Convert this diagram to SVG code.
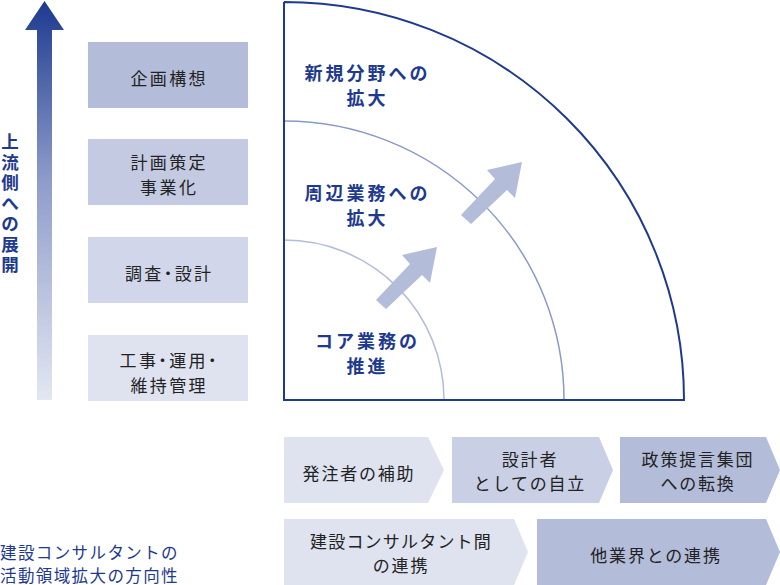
<svg xmlns="http://www.w3.org/2000/svg" width="780" height="585" viewBox="0 0 780 585">
<style>
text{font-family:"Noto Sans CJK JP","Noto Sans",sans-serif;}
.bx{font-size:17px;fill:#222;text-anchor:middle;letter-spacing:2.4px;}
.palt{font-feature-settings:"palt";}
.bl{font-size:18px;font-weight:700;fill:#1e3a8f;text-anchor:middle;letter-spacing:3px;}
.vt{font-size:17.5px;font-weight:700;fill:#1e3a8f;text-anchor:middle;}
.ch{font-size:17px;fill:#222;text-anchor:middle;letter-spacing:1.8px;}
.note{font-size:16.5px;fill:#1e3a8f;letter-spacing:1.4px;}
.c1{fill:#dfe3f0;}.c2{fill:#c9cfe5;}.c3{fill:#b3bcd9;}
.arc{fill:none;}
.ga{fill:#b3bcd9;}
</style>
<defs>
<linearGradient id="upg" x1="0" y1="0" x2="0" y2="1">
<stop offset="0" stop-color="#1e3a8f"/>
<stop offset="0.45" stop-color="#8e9cca"/>
<stop offset="1" stop-color="#e3e7f2"/>
</linearGradient>
</defs>

<g id="upstream-arrow">
<polygon points="44.5,1 64,30 52,30 52,400 37,400 37,30 25,30" fill="url(#upg)"/>
<text class="vt"><tspan x="10" y="148">上</tspan><tspan x="10" dy="20.5">流</tspan><tspan x="10" dy="20.5">側</tspan><tspan x="10" dy="20.5">へ</tspan><tspan x="10" dy="20.5">の</tspan><tspan x="10" dy="20.5">展</tspan><tspan x="10" dy="20.5">開</tspan></text>
</g>

<g id="box-kikaku">
<rect x="88" y="42" width="160" height="66" fill="#b3bcd9"/>
<text class="bx" x="169.2" y="84.5">企画構想</text>
</g>
<g id="box-keikaku">
<rect x="88" y="139" width="160" height="66" fill="#c3cae2"/>
<text class="bx" x="169.2" y="169">計画策定</text>
<text class="bx" x="169.2" y="193.5">事業化</text>
</g>
<g id="box-chousa">
<rect x="88" y="237" width="160" height="66" fill="#d1d6ea"/>
<text class="bx palt" x="169.2" y="279.5">調査・設計</text>
</g>
<g id="box-kouji">
<rect x="88" y="335" width="160" height="66" fill="#dfe3f0"/>
<text class="bx palt" x="169.2" y="367">工事・運用・</text>
<text class="bx" x="169.2" y="392">維持管理</text>
</g>

<g id="quarter">
<path class="arc" d="M284,240 A160,160 0 0 1 444,400" stroke="#b3bcd9" stroke-width="1.5"/>
<path class="arc" d="M284,121 A280,279 0 0 1 564,400" stroke="#8a99c8" stroke-width="1.5"/>
<path class="arc" d="M284,2 L284,400 L684,400 A400,398 0 0 0 284,2" stroke="#1e3a8f" stroke-width="2"/>
<text class="bl" x="367.5" y="80">新規分野への</text>
<text class="bl" x="367.5" y="105">拡大</text>
<text class="bl" x="367.5" y="200">周辺業務への</text>
<text class="bl" x="367.5" y="225">拡大</text>
<text class="bl" x="367.5" y="348">コア業務の</text>
<text class="bl" x="367.5" y="373">推進</text>
</g>

<g id="connectors">
<polygon class="ga" points="376,300 410,264 402,255 437,247 430,283 422,275 386,309"/>
<polygon class="ga" points="461,215 495,179 487,170 522,162 515,198 507,190 471,224"/>
</g>

<g id="chev-hatchu">
<polygon class="c1" points="284,437 428,437 444,470 428,503 284,503"/>
<text class="ch" x="359" y="479.5">発注者の補助</text>
</g>
<g id="chev-sekkeisha">
<polygon class="c2" points="452,437 599,437 613,470 599,503 452,503"/>
<text class="ch" x="530" y="466">設計者</text>
<text class="ch" x="530" y="490">としての自立</text>
</g>
<g id="chev-seisaku">
<polygon class="c3" points="620,437 766,437 780,470 766,503 620,503"/>
<text class="ch" x="698" y="466">政策提言集団</text>
<text class="ch" x="698" y="490">への転換</text>
</g>
<g id="chev-kensetsu">
<polygon class="c1" points="284,519 514,519 528,552 514,585 284,585"/>
<text class="ch" x="401" y="548" style="letter-spacing:1.2px">建設コンサルタント間</text>
<text class="ch" x="401" y="572">の連携</text>
</g>
<g id="chev-gyokai">
<polygon class="c3" points="537,519 766,519 780,552 766,585 537,585"/>
<text class="ch" x="656" y="561.5">他業界との連携</text>
</g>

<g id="note">
<text class="note" x="0" y="559">建設コンサルタントの</text>
<text class="note" x="0" y="581.5">活動領域拡大の方向性</text>
</g>
</svg>
